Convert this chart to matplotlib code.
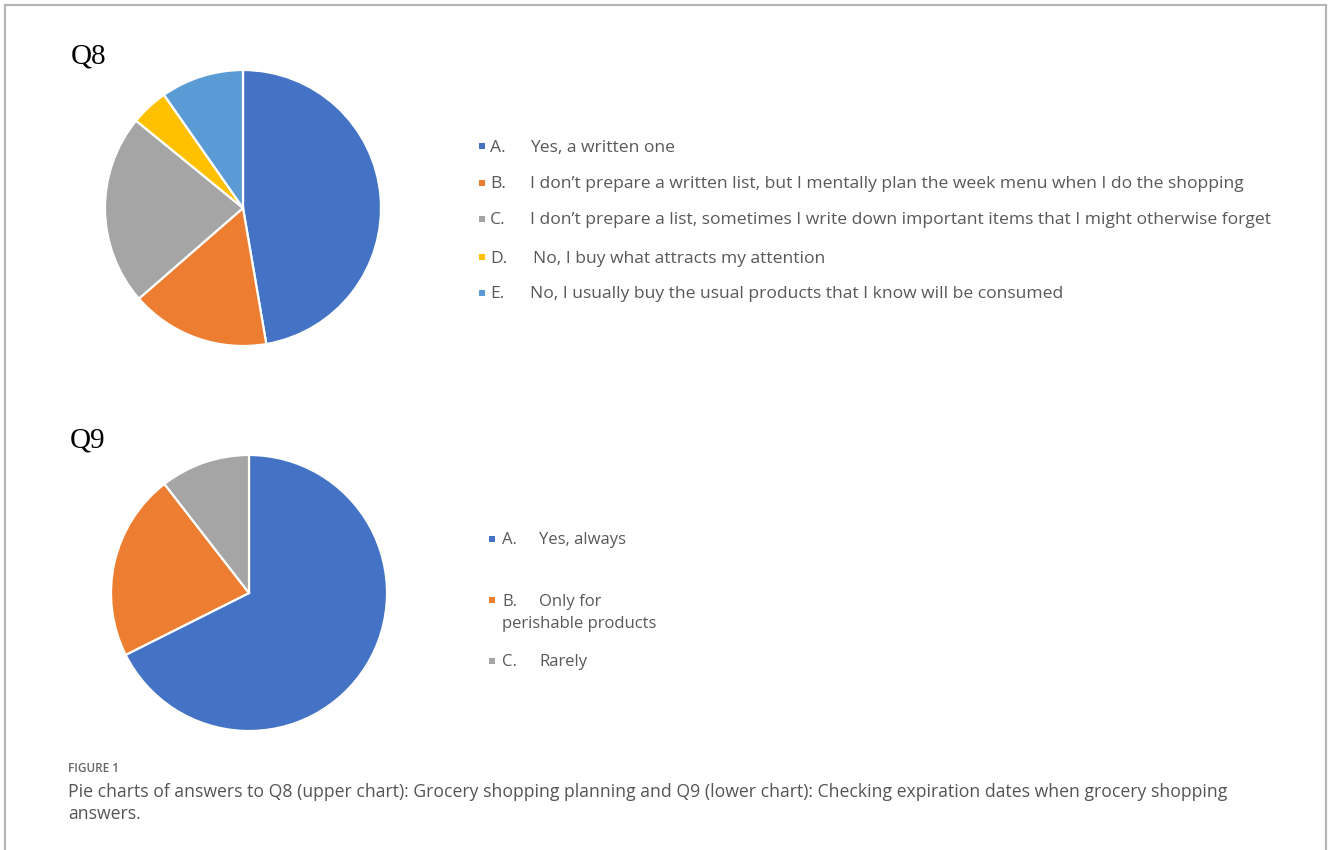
import matplotlib.pyplot as plt
from matplotlib.patches import Rectangle
from matplotlib.lines import Line2D

W, H = 1328, 850

# Q8: grocery shopping planning (shares, %)
q8_letters = ['A.', 'B.', 'C.', 'D.', 'E.']
q8_labels = [
    'Yes, a written one',
    'I don\u2019t prepare a written list, but I mentally plan the week menu when I do the shopping',
    'I don\u2019t prepare a list, sometimes I write down important items that I might otherwise forget',
    'No, I buy what attracts my attention',
    'No, I usually buy the usual products that I know will be consumed',
]
q8_values = [47.3, 16.3, 22.3, 4.4, 9.7]
q8_colors = ['#4472C4', '#ED7D31', '#A5A5A5', '#FFC000', '#5B9BD5']

# Q9: checking expiration dates
q9_letters = ['A.', 'B.', 'C.']
q9_labels = ['Yes, always', 'Only for', 'Rarely']
q9_values = [67.6, 21.9, 10.5]
q9_colors = ['#4472C4', '#ED7D31', '#A5A5A5']

caption_head = 'FIGURE 1'
caption_lines = [
    'Pie charts of answers to Q8 (upper chart): Grocery shopping planning and Q9 (lower chart): Checking expiration dates when grocery shopping',
    'answers.',
]

legend_color = '#595959'
legend_font = 'Open Sans'


def fx(px):
    return px / W


def fy(py):
    return 1 - py / H


def pie_axes(cx, cy, r, values, colors):
    ax = fig.add_axes([fx(cx - r), fy(cy + r), 2 * r / W, 2 * r / H])
    ax.pie(values, colors=colors, startangle=90, counterclock=False,
           wedgeprops=dict(edgecolor='white', linewidth=1.6))
    ax.set_xlim(-1.0, 1.0)
    ax.set_ylim(-1.0, 1.0)
    ax.set_aspect('equal')
    ax.axis('off')
    return ax


def legend_row(y, x_mark, x_letter, x_text, color, letter, text, size):
    fig.add_artist(Rectangle((fx(x_mark), fy(y + 3)), 6 / W, 6 / H,
                             transform=fig.transFigure, color=color, lw=0))
    fig.text(fx(x_letter), fy(y + 1.5), letter, ha='left', va='center',
             fontsize=size, color=legend_color, family=legend_font)
    fig.text(fx(x_text), fy(y + 1.5), text, ha='left', va='center',
             fontsize=size, color=legend_color, family=legend_font)


fig = plt.figure(figsize=(W / 100, H / 100), dpi=100)
fig.patch.set_facecolor('white')

# outer frame (open at the bottom)
frame_kw = dict(transform=fig.transFigure, color='#b4b4b4', lw=1.5)
fig.add_artist(Line2D([fx(5), fx(5)], [0, fy(5)], **frame_kw))
fig.add_artist(Line2D([fx(5), fx(1326)], [fy(5), fy(5)], **frame_kw))
fig.add_artist(Line2D([fx(1326), fx(1326)], [0, fy(5)], **frame_kw))

# Q8
fig.text(fx(71), fy(63), 'Q8', family='Liberation Serif', fontsize=21,
         color='black', ha='left', va='baseline')
pie_axes(243, 208, 138, q8_values, q8_colors)
q8_rows = [146, 183, 219, 257, 293]
q8_text_x = [530, 530, 530, 533, 530]
for i in range(len(q8_values)):
    legend_row(q8_rows[i], 479, 490, q8_text_x[i], q8_colors[i],
               q8_letters[i], q8_labels[i], 12.6)

# Q9
fig.text(fx(70), fy(447), 'Q9', family='Liberation Serif', fontsize=21,
         color='black', ha='left', va='baseline')
pie_axes(249, 593, 138, q9_values, q9_colors)
q9_rows = [539, 600, 661]
for i in range(len(q9_values)):
    legend_row(q9_rows[i], 489, 502, 539, q9_colors[i],
               q9_letters[i], q9_labels[i], 12)
fig.text(fx(502), fy(623.5), 'perishable products', ha='left', va='center',
         fontsize=12, color=legend_color, family=legend_font)

# caption
fig.text(fx(68), fy(768), caption_head, ha='left', va='center', fontsize=8.5,
         color='#666666', family='Open Sans', fontweight='semibold')
for j, line in enumerate(caption_lines):
    fig.text(fx(68), fy(792 + 22 * j), line, ha='left', va='center',
             fontsize=12.7, color='#555555', family='Open Sans')

fig.savefig('out.png', dpi=100, facecolor='white')
